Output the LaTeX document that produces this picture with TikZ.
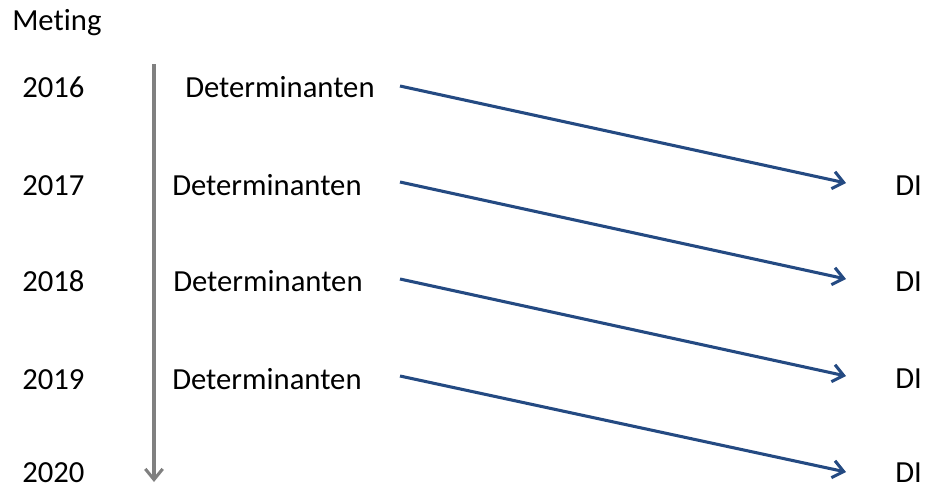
\documentclass[tikz,border=0pt]{standalone}
\usepackage{fontspec}
\setmainfont{Carlito}[Ligatures={NoCommon}]
\usepackage{tikz}
\usetikzlibrary{arrows.meta,positioning}
\definecolor{metblue}{RGB}{36,74,130}
\definecolor{metgray}{RGB}{128,128,128}
\tikzset{
  lbl/.style={inner sep=0pt,anchor=base west,font=\fontsize{23}{27}\selectfont},
  pijl/.style={draw=metblue,line width=2.3pt,-{Straight Barb[length=8pt,width=13pt,line width=2.3pt]}},
  tijd/.style={draw=metgray,line width=2.3pt,-{Straight Barb[length=8pt,width=13pt,line width=2.3pt]}}
}

\begin{document}
\begin{tikzpicture}[x=0.75pt,y=-0.75pt]
\useasboundingbox (0,0) rectangle (926,487);
% kopje en jaren
\node[lbl] (meting) at (12,30) {Meting};
\node[lbl] (y2016) at (22,97) {2016};
\node[lbl] (y2017) at (22,195) {2017};
\node[lbl] (y2018) at (22,291) {2018};
\node[lbl] (y2019) at (22,389) {2019};
\node[lbl] (y2020) at (22,482) {2020};
% tijdas
\coordinate (tbegin) at (154,64);
\coordinate (teind) at (154,482);
\draw[tijd] (tbegin) -- (teind);
% determinanten
\node[lbl] (det2016) at (185,97) {Determinanten};
\node[lbl] (det2017) at (172,195) {Determinanten};
\node[lbl] (det2018) at (173,291) {Determinanten};
\node[lbl] (det2019) at (172,389) {Determinanten};
% uitkomst
\node[lbl] (di2017) at (895,195) {DI};
\node[lbl] (di2018) at (895,291) {DI};
\node[lbl] (di2019) at (895,388) {DI};
\node[lbl] (di2020) at (895,482) {DI};
% pijlen
\coordinate (s2016) at (400,86);
\coordinate (e2017) at (846,183);
\coordinate (s2017) at (400,182);
\coordinate (e2018) at (846,279);
\coordinate (s2018) at (400,279);
\coordinate (e2019) at (846,376);
\coordinate (s2019) at (400,376);
\coordinate (e2020) at (846,472);
\draw[pijl] (s2016) -- (e2017);
\draw[pijl] (s2017) -- (e2018);
\draw[pijl] (s2018) -- (e2019);
\draw[pijl] (s2019) -- (e2020);
\end{tikzpicture}
\end{document}
